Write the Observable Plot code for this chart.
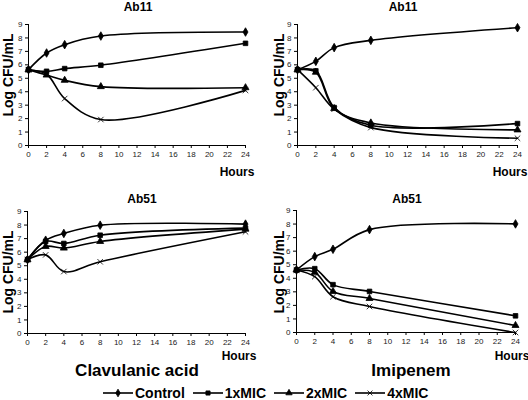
<!DOCTYPE html>
<html><head><meta charset="utf-8">
<script src="https://cdn.jsdelivr.net/npm/d3@7"></script>
<script src="https://cdn.jsdelivr.net/npm/@observablehq/plot@0.6"></script>
<style>
body{margin:0;background:#fff;font-family:"Liberation Sans",Arial,sans-serif;}
#root{position:relative;width:528px;height:400px;overflow:hidden;background:#fff;}
.lbl{position:absolute;font-weight:bold;color:#000;white-space:nowrap;line-height:1;transform:translate(-50%,-50%);}
.legend{position:absolute;left:103px;top:393px;transform:translateY(-50%);display:flex;align-items:center;gap:8px;font-weight:bold;font-size:14px;color:#000;white-space:nowrap;}
.legend .it{display:flex;align-items:center;gap:2px;}
</style></head><body><div id="root"></div>
<script>
const hours = [0, 2, 4, 8, 24];
const series = ["Control", "1xMIC", "2xMIC", "4xMIC"];
const xTicks = [0, 2, 4, 6, 8, 10, 12, 14, 16, 18, 20, 22, 24];
const yTicks = [0, 1, 2, 3, 4, 5, 6, 7, 8, 9];

// Clavulanic acid, Ab11
const clavAb11Control = [5.64, 6.88, 7.50, 8.14, 8.44];
const clavAb11Mic1    = [5.64, 5.52, 5.72, 5.97, 7.60];
const clavAb11Mic2    = [5.64, 5.24, 4.85, 4.38, 4.30];
const clavAb11Mic4    = [5.64, 5.30, 3.49, 1.93, 4.10];
// Imipenem, Ab11
const imiAb11Control = [5.64, 6.26, 7.28, 7.82, 8.76];
const imiAb11Mic1    = [5.64, 5.55, 2.82, 1.50, 1.63];
const imiAb11Mic2    = [5.64, 5.45, 2.75, 1.68, 1.16];
const imiAb11Mic4    = [5.64, 4.30, 2.70, 1.33, 0.54];
// Clavulanic acid, Ab51
const clavAb51Control = [5.45, 6.88, 7.38, 7.99, 8.07];
const clavAb51Mic1    = [5.45, 6.79, 6.64, 7.25, 7.77];
const clavAb51Mic2    = [5.45, 6.42, 6.30, 6.79, 7.70];
const clavAb51Mic4    = [5.45, 5.80, 4.57, 5.29, 7.50];
// Imipenem, Ab51
const imiAb51Control = [4.61, 5.60, 6.14, 7.59, 8.01];
const imiAb51Mic1    = [4.61, 4.71, 3.53, 3.03, 1.23];
const imiAb51Mic2    = [4.61, 4.44, 3.03, 2.51, 0.52];
const imiAb51Mic4    = [4.61, 4.12, 2.64, 1.92, 0.00];

function rows(arrs) {
  const out = [];
  arrs.forEach((vals, i) => vals.forEach((v, j) => out.push({series: series[i], hour: hours[j], value: v})));
  return out;
}

const root = document.getElementById("root");

function panel(data, o) {
  const p = Plot.plot({
    width: 264, height: o.height,
    marginLeft: o.ml, marginRight: o.mr, marginTop: o.mt, marginBottom: o.mb,
    x: {domain: [0, 24], axis: null},
    y: {domain: [0, 9], axis: null},
    symbol: {domain: series, range: ["diamond", "square", "triangle", "times"]},
    style: {background: "transparent", color: "#000", fontFamily: "'Liberation Sans', Arial, sans-serif", overflow: "visible"},
    marks: [
      Plot.axisX({ticks: xTicks, tickSize: 3, tickPadding: 3, fontSize: 8, label: null, stroke: "#000", fill: "#222"}),
      Plot.axisY({ticks: yTicks, tickSize: 3, tickPadding: 3, fontSize: 8, label: null, stroke: "#000", fill: "#222"}),
      Plot.ruleX([0], {stroke: "#000", strokeWidth: 1}),
      Plot.ruleY([0], {stroke: "#000", strokeWidth: 1}),
      Plot.line(data, {x: "hour", y: "value", z: "series", curve: "catmull-rom", stroke: "#000", strokeWidth: 1.6}),
      Plot.dot(data, {x: "hour", y: "value", symbol: "series", fill: "#000", stroke: "#000", strokeWidth: 0.8, r: 2.6})
    ]
  });
  p.style.position = "absolute";
  p.style.left = o.left + "px";
  p.style.top = o.top + "px";
  root.appendChild(p);
}

panel(rows([clavAb11Control, clavAb11Mic1, clavAb11Mic2, clavAb11Mic4]), {left: 0, top: 0, height: 180, ml: 28, mr: 19, mt: 24, mb: 35});
panel(rows([imiAb11Control, imiAb11Mic1, imiAb11Mic2, imiAb11Mic4]), {left: 264, top: 0, height: 180, ml: 33, mr: 11, mt: 24, mb: 35});
panel(rows([clavAb51Control, clavAb51Mic1, clavAb51Mic2, clavAb51Mic4]), {left: 0, top: 190, height: 178, ml: 27, mr: 19, mt: 21, mb: 35});
panel(rows([imiAb51Control, imiAb51Mic1, imiAb51Mic2, imiAb51Mic4]), {left: 264, top: 190, height: 177, ml: 32, mr: 13, mt: 20, mb: 35});

function label(text, x, y, size, rotate) {
  const d = document.createElement("div");
  d.className = "lbl";
  d.textContent = text;
  d.style.left = x + "px";
  d.style.top = y + "px";
  d.style.fontSize = size + "px";
  if (rotate) d.style.transform = "translate(-50%,-50%) rotate(-90deg)";
  root.appendChild(d);
}

label("Ab11", 138, 7, 12);
label("Ab11", 403, 7, 12);
label("Ab51", 142, 199, 12);
label("Ab51", 407, 199, 12);
label("Log CFU/mL", 8, 75, 14, true);
label("Log CFU/mL", 279, 75, 14, true);
label("Log CFU/mL", 8, 272, 14, true);
label("Log CFU/mL", 279, 272, 14, true);
label("Hours", 237, 172, 12);
label("Hours", 510, 172, 12);
label("Hours", 239, 356, 12);
label("Hours", 512, 356, 12);
label("Clavulanic acid", 137, 370, 17);
label("Imipenem", 411, 370, 17);

// legend
const symbolTypes = [d3.symbolDiamond, d3.symbolSquare, d3.symbolTriangle, d3.symbolTimes];
const leg = document.createElement("div");
leg.className = "legend";
series.forEach((s, i) => {
  const it = document.createElement("div");
  it.className = "it";
  const svg = d3.create("svg").attr("width", 30).attr("height", 10);
  svg.append("line").attr("x1", 0).attr("x2", 30).attr("y1", 5).attr("y2", 5).attr("stroke", "#000").attr("stroke-width", 1.6);
  svg.append("path").attr("transform", "translate(15,5)")
    .attr("d", d3.symbol(symbolTypes[i], Math.PI * 5.5)())
    .attr("fill", "#000").attr("stroke", "#000").attr("stroke-width", 0.8);
  it.appendChild(svg.node());
  const t = document.createElement("span");
  t.textContent = s;
  it.appendChild(t);
  leg.appendChild(it);
});
root.appendChild(leg);
</script>
</body></html>
